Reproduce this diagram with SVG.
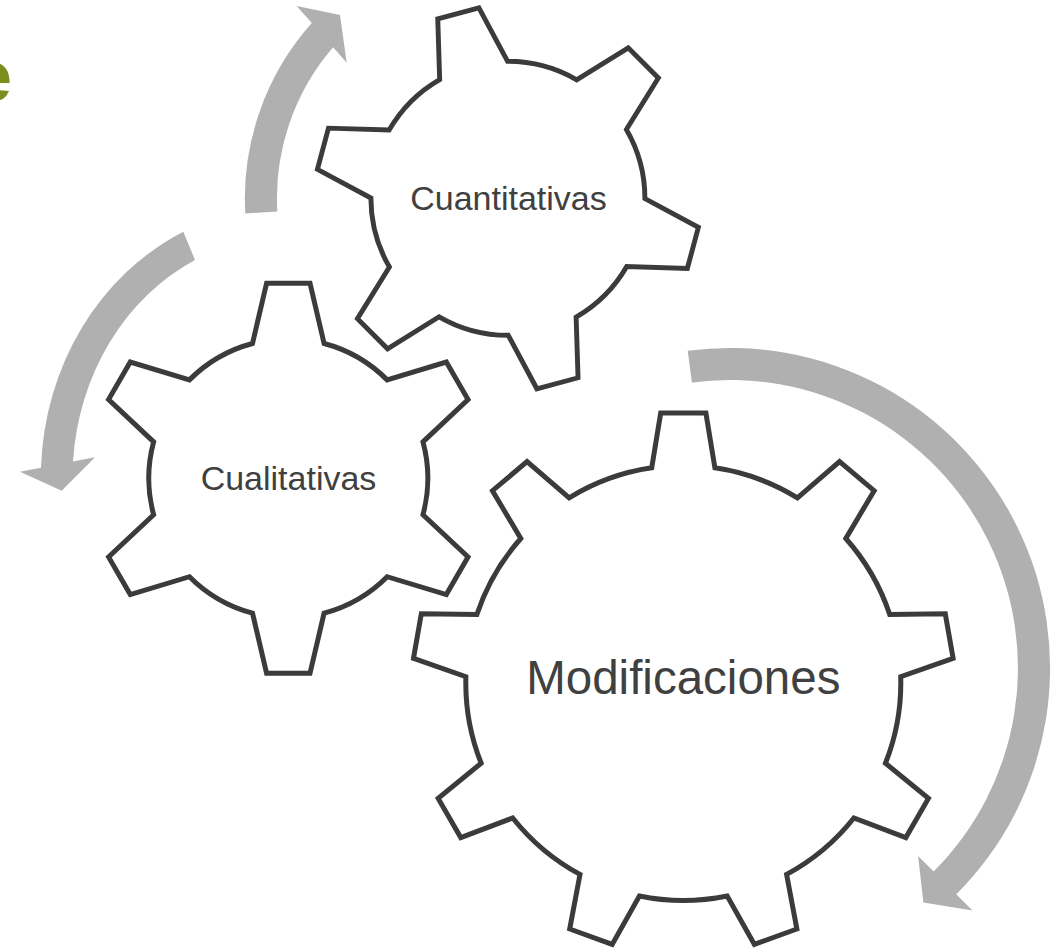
<svg xmlns="http://www.w3.org/2000/svg" width="1059" height="952" viewBox="0 0 1059 952">
<style>
.gear{fill:#ffffff;stroke:#3b3b3b;stroke-width:5;stroke-linejoin:miter}
.arrow{fill:#b0b0b0;stroke:none}
.lbl{font-family:"Liberation Sans",Arial,sans-serif;fill:#404040;text-anchor:middle}
.title{font-family:"Liberation Sans",Arial,sans-serif;fill:#7d8c1e;font-weight:bold;text-anchor:end}
</style>
<defs>
<path id="gear6" d="M -35.8,-134.83 L -21.7,-195 L 21.7,-195 L 35.8,-134.83 A 139.5 139.5 0 0 1 98.87,-98.42 L 158.02,-116.29 L 179.72,-78.71 L 134.67,-36.42 A 139.5 139.5 0 0 1 134.67,36.42 L 179.72,78.71 L 158.02,116.29 L 98.87,98.42 A 139.5 139.5 0 0 1 35.8,134.83 L 21.7,195 L -21.7,195 L -35.8,134.83 A 139.5 139.5 0 0 1 -98.87,98.42 L -158.02,116.29 L -179.72,78.71 L -134.67,36.42 A 139.5 139.5 0 0 1 -134.67,-36.42 L -179.72,-78.71 L -158.02,-116.29 L -98.87,-98.42 A 139.5 139.5 0 0 1 -35.8,-134.83 Z"/>
<path id="gear9" d="M -31.6,-215.19 L -22.6,-270 L 22.6,-270 L 31.6,-215.19 A 217.5 217.5 0 0 1 114.11,-185.15 L 156.24,-221.36 L 190.86,-192.3 L 162.53,-144.53 A 217.5 217.5 0 0 1 206.43,-68.49 L 261.97,-69.14 L 269.82,-24.63 L 217.41,-6.25 A 217.5 217.5 0 0 1 202.16,80.23 L 245.13,115.43 L 222.53,154.57 L 170.56,134.97 A 217.5 217.5 0 0 1 103.29,191.4 L 113.58,245.99 L 71.11,261.45 L 43.91,213.02 A 217.5 217.5 0 0 1 -43.91,213.02 L -71.11,261.45 L -113.59,245.99 L -103.29,191.4 A 217.5 217.5 0 0 1 -170.56,134.97 L -222.53,154.57 L -245.13,115.43 L -202.16,80.23 A 217.5 217.5 0 0 1 -217.41,-6.25 L -269.82,-24.63 L -261.98,-69.15 L -206.43,-68.49 A 217.5 217.5 0 0 1 -162.53,-144.53 L -190.86,-192.3 L -156.24,-221.36 L -114.11,-185.15 A 217.5 217.5 0 0 1 -31.6,-215.19 Z"/>
</defs>
<rect x="0" y="0" width="1059" height="952" fill="#ffffff"/>
<text class="title" x="12" y="101" font-size="72">e</text>
<g id="connectors">
<path id="arrow-cuantitativas" class="arrow" d="M 245.3,213.4 A 263 263 0 0 1 311.8,23.1 L 296.7,6 L 340,15 L 346.7,62.7 L 333.1,47.3 A 231 231 0 0 0 277.3,211.6 Z"/>
<path id="arrow-cualitativas" class="arrow" d="M 183.3,231.7 A 248 271.5 0 0 0 41,467.8 L 20,471.7 L 61.7,490.7 L 95,457.3 L 73,461.5 A 216 242 0 0 1 195,260 Z"/>
<path id="arrow-modificaciones" class="arrow" d="M 687.7,350.8 A 320 320 0 0 1 956.3,894.3 L 972.5,910.5 L 923.4,902.6 L 918.1,856.1 L 933.6,871.6 A 288 288 0 0 0 691.9,382.5 Z"/>
</g>
<g id="node-cuantitativas">
<use href="#gear6" class="gear" transform="translate(507.9,198.3) rotate(-15) scale(0.982)"/>
<text class="lbl" x="508.5" y="209.5" font-size="34">Cuantitativas</text>
</g>
<g id="node-cualitativas">
<use href="#gear6" class="gear" transform="translate(288.3,478.3)"/>
<text class="lbl" x="288.5" y="489.5" font-size="34">Cualitativas</text>
</g>
<g id="node-modificaciones">
<use href="#gear9" class="gear" transform="translate(683.3,683)"/>
<text class="lbl" x="683.3" y="693.5" font-size="47.5">Modificaciones</text>
</g>
</svg>
